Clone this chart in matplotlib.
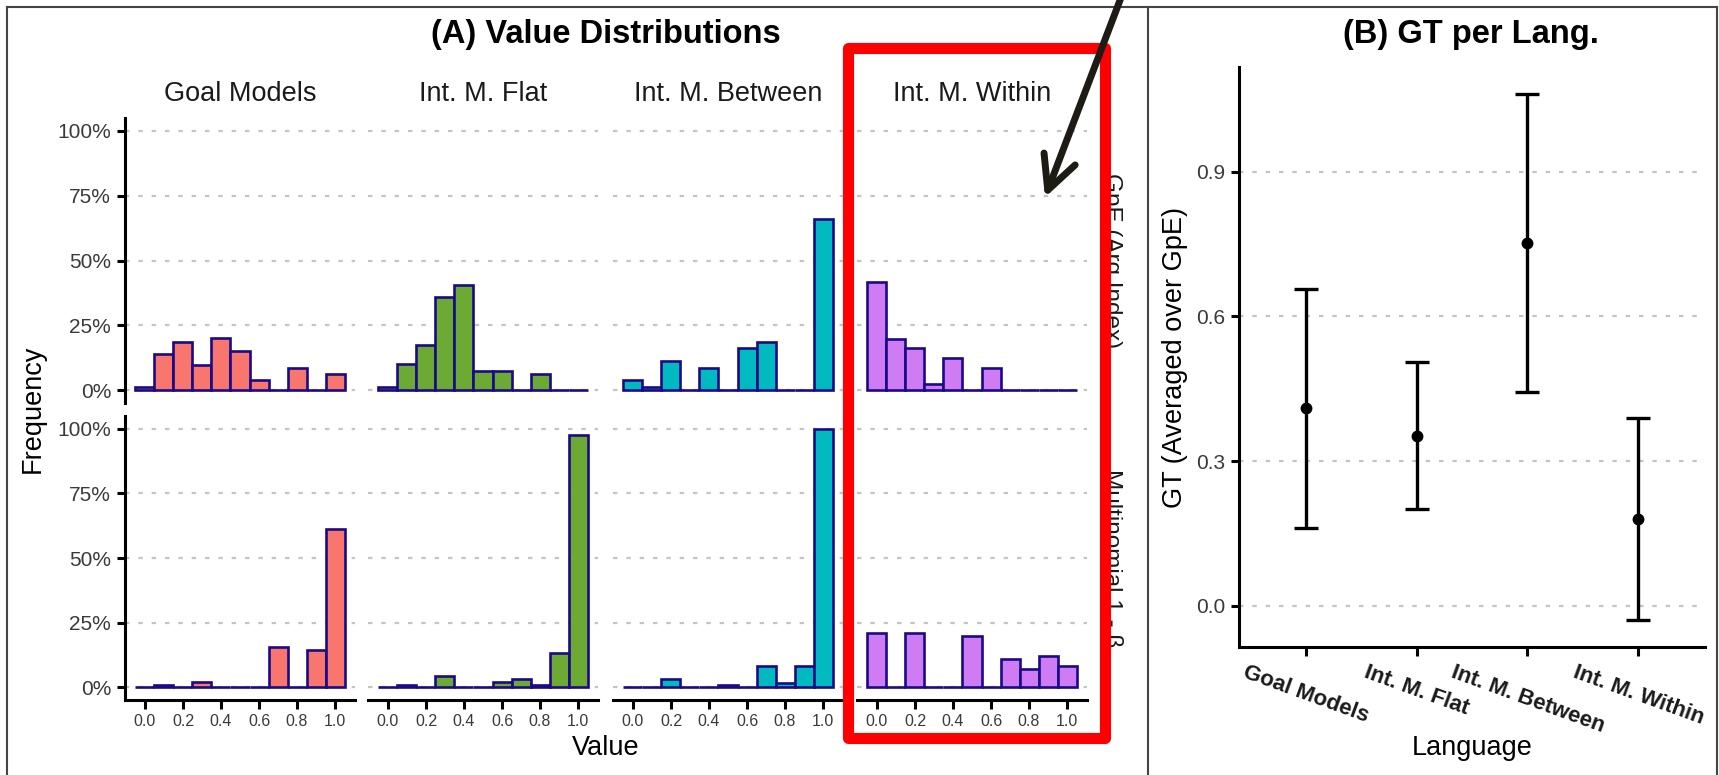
import matplotlib
matplotlib.use("Agg")
import matplotlib.pyplot as plt
from matplotlib.patches import Rectangle, FancyArrowPatch
from matplotlib.lines import Line2D

plt.rcParams['font.family'] = ['Liberation Sans', 'DejaVu Sans']

# ---- data ----
languages = ["Goal Models", "Int. M. Flat", "Int. M. Between", "Int. M. Within"]
bin_centers = [0.0, 0.1, 0.2, 0.3, 0.4, 0.5, 0.6, 0.7, 0.8, 0.9, 1.0]

# frequency (%) per bin, row "GpE (Arg Index)"
gpe_goal = [1.3, 13.8, 18.7, 9.7, 20.0, 15.1, 3.9, 0, 8.6, 0, 6.2]
gpe_flat = [1.3, 9.9, 17.4, 35.8, 40.7, 7.4, 7.4, 0, 6.1, 0, 0]
gpe_between = [3.9, 1.3, 11.2, 0, 8.6, 0, 16.1, 18.7, 0, 0, 65.9]
gpe_within = [41.7, 19.8, 16.1, 2.3, 12.3, 0, 8.6, 0, 0, 0, 0]

# frequency (%) per bin, row "Multinomial 1 - β"
mult_goal = [0, 0.9, 0, 1.9, 0, 0, 0, 15.5, 0, 14.5, 61.1]
mult_flat = [0, 0.9, 0, 4.4, 0, 0, 1.9, 3.2, 0.9, 13.3, 97.5]
mult_between = [0, 0, 3.2, 0, 0, 0.9, 0, 8.2, 1.7, 8.2, 100.0]
mult_within = [21.0, 0, 21.0, 0, 0, 19.7, 0, 11.0, 7.1, 12.0, 8.2]

row_labels = ["GpE (Arg Index)", "Multinomial 1 - β"]

# panel B: GT per language (mean and interval)
gt_mean = [0.411, 0.353, 0.753, 0.180]
gt_lower = [0.162, 0.201, 0.444, -0.029]
gt_upper = [0.656, 0.506, 1.062, 0.390]

# ---- style ----
fill_colors = ["#F8766D", "#6CAA33", "#00BAC0", "#CF7BF3"]
edge_color = "#1a0a86"
grid_color = "#c4c4c4"
tick_color = "#3a3a3a"
grid_ls = (0, (2, 4))

W, H = 1719, 775
fig = plt.figure(figsize=(W / 100, H / 100), dpi=100)


def box(x0, y0, x1, y1):
    return [x0 / W, 1 - y1 / H, (x1 - x0) / W, (y1 - y0) / H]


col_left = [125, 368, 613, 857]
panel_w = 230
rows_y = [(118, 403), (416, 700)]
rows = [[gpe_goal, gpe_flat, gpe_between, gpe_within],
        [mult_goal, mult_flat, mult_between, mult_within]]

for r in range(2):
    for c in range(4):
        ax = fig.add_axes(box(col_left[c], rows_y[r][0], col_left[c] + panel_w, rows_y[r][1]))
        ax.set_xlim(-0.105, 1.105)
        ax.set_ylim(-5, 105)
        for v in [0, 25, 50, 75, 100]:
            ax.axhline(v, color=grid_color, lw=1.6, ls=grid_ls, zorder=1)
        ax.bar(bin_centers, rows[r][c], width=0.1, color=fill_colors[c],
               edgecolor=edge_color, linewidth=1.9, zorder=3)
        for s in ["top", "right"]:
            ax.spines[s].set_visible(False)
        ax.spines["left"].set_linewidth(2.2)
        ax.spines["bottom"].set_linewidth(2.2)
        ax.spines["left"].set_visible(c == 0)
        ax.spines["bottom"].set_visible(r == 1)
        ax.set_yticks([0, 25, 50, 75, 100])
        ax.set_yticklabels(["0%", "25%", "50%", "75%", "100%"])
        ax.set_xticks([0.0, 0.2, 0.4, 0.6, 0.8, 1.0])
        ax.set_xticklabels(["0.0", "0.2", "0.4", "0.6", "0.8", "1.0"])
        ax.tick_params(axis="y", length=6, width=2.2, pad=4, labelsize=15,
                       labelcolor=tick_color, left=(c == 0), labelleft=(c == 0))
        ax.tick_params(axis="x", length=6.5, width=2.2, pad=3.5, labelsize=11.5,
                       labelcolor=tick_color, bottom=(r == 1), labelbottom=(r == 1))
        ax.patch.set_alpha(0)
        if r == 0:
            fig.text((col_left[c] + panel_w / 2) / W, 1 - 94 / H, languages[c],
                     ha="center", va="center", fontsize=19.5, color="#1a1a1a")
    fig.text(1111 / W, 1 - (sum(rows_y[r]) / 2) / H, row_labels[r], rotation=-90,
             ha="center", va="center", fontsize=17.5, color="#1a1a1a")

fig.text(606 / W, 1 - 35 / H, "(A) Value Distributions", ha="center", va="center",
         fontsize=23.5, fontweight="bold")
fig.text(606 / W, 1 - 748 / H, "Value", ha="center", va="center", fontsize=19.5)
fig.text(33 / W, 1 - 409 / H, "Frequency", ha="center", va="center", rotation=90,
         fontsize=19.5)

# ---- panel B ----
axb = fig.add_axes(box(1239, 67, 1705, 647))
xpos = [i + 1 for i in range(len(languages))]
for v in [0.0, 0.3, 0.6, 0.9]:
    axb.axhline(v, color=grid_color, lw=1.6, ls=grid_ls, zorder=1)
err_lo = [m - lo for m, lo in zip(gt_mean, gt_lower)]
err_hi = [hi - m for m, hi in zip(gt_mean, gt_upper)]
axb.errorbar(xpos, gt_mean, yerr=[err_lo, err_hi], fmt="o", color="black", ms=7.5,
             elinewidth=2.4, capsize=8.3, capthick=2.4, zorder=3)
axb.set_xlim(0.4, 4.6)
axb.set_ylim(-0.085, 1.117)
axb.set_yticks([0.0, 0.3, 0.6, 0.9])
axb.set_yticklabels(["0.0", "0.3", "0.6", "0.9"])
axb.set_xticks(xpos)
axb.set_xticklabels(languages, rotation=-20, fontweight="bold", fontsize=16)
for s in ["top", "right"]:
    axb.spines[s].set_visible(False)
axb.spines["left"].set_linewidth(2.2)
axb.spines["bottom"].set_linewidth(2.2)
axb.tick_params(axis="y", length=6, width=2.2, pad=4, labelsize=15, labelcolor=tick_color)
axb.tick_params(axis="x", length=6.5, width=2.2, pad=4, labelcolor="#1a1a1a")
axb.patch.set_alpha(0)

fig.text(1471 / W, 1 - 35 / H, "(B) GT per Lang.", ha="center", va="center",
         fontsize=23.5, fontweight="bold")
fig.text(1472 / W, 1 - 748 / H, "Language", ha="center", va="center", fontsize=19.5)
fig.text(1175 / W, 1 - 357 / H, "GT (Averaged over GpE)", ha="center", va="center",
         rotation=90, fontsize=19.5)

# ---- frame lines ----
frame = "#444444"
fig.add_artist(Line2D([7 / W, 1717 / W], [1 - 7 / H, 1 - 7 / H], color=frame, lw=1.5))
fig.add_artist(Line2D([7 / W, 7 / W], [0, 1 - 7 / H], color=frame, lw=1.5))
fig.add_artist(Line2D([1148 / W, 1148 / W], [0, 1 - 7 / H], color=frame, lw=1.5))
fig.add_artist(Line2D([1717 / W, 1717 / W], [0, 1 - 7 / H], color=frame, lw=1.5))

# ---- annotation: red box and arrow ----
rect = Rectangle((848 / W, 1 - 738 / H), (1105 - 848) / W, (738 - 48) / H,
                 transform=fig.transFigure, fill=False, edgecolor="#ff0000",
                 linewidth=8, joinstyle="round", zorder=10)
fig.add_artist(rect)
arrow = FancyArrowPatch((1122 / W, 1 + 5 / H), (1044 / W, 1 - 200 / H),
                        transform=fig.transFigure,
                        arrowstyle="->,head_length=0.8,head_width=0.4",
                        mutation_scale=30, linewidth=5, color="#1e1a14",
                        capstyle="round", joinstyle="round", zorder=11)
fig.add_artist(arrow)

fig.savefig("out.png", dpi=100)
